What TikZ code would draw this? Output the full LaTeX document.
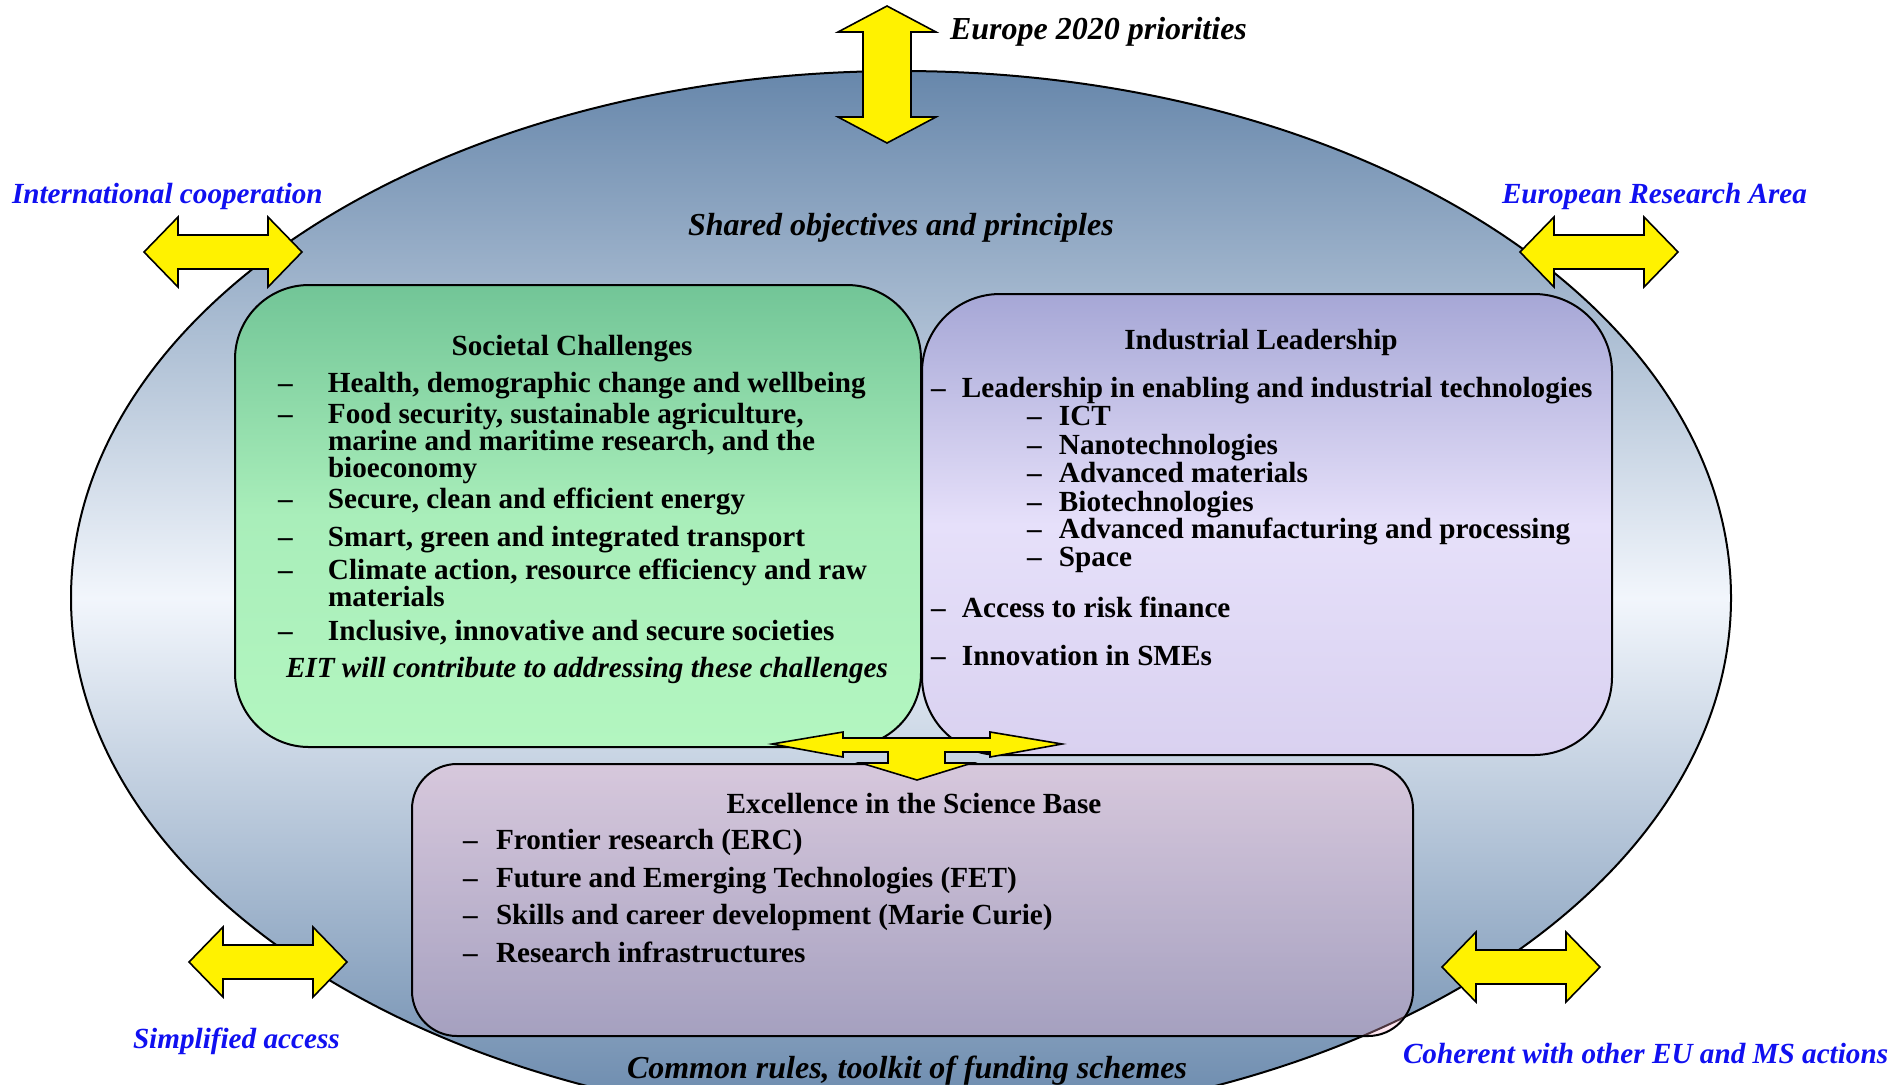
\documentclass[tikz,border=0pt]{standalone}
\usepackage{fontspec}
\setmainfont{Liberation Serif}
\definecolor{ellTop}{HTML}{6787AB}
\definecolor{ellMid}{HTML}{F2F6FC}
\definecolor{grTop}{HTML}{72C597}
\definecolor{grMid}{HTML}{A9EEBA}
\definecolor{grBot}{HTML}{B3F6C0}
\definecolor{puTop}{HTML}{A6A7D6}
\definecolor{puMid}{HTML}{E6E0FA}
\definecolor{puBot}{HTML}{D9D1F0}
\definecolor{pkBox}{HTML}{FFB0D0}
\definecolor{lblBlue}{HTML}{1010F0}
\newcommand{\bxfont}{\bfseries\fontsize{14.6}{17}\selectfont}
\newcommand{\bxitfont}{\bfseries\itshape\fontsize{14.6}{17}\selectfont}
\newcommand{\bigitfont}{\bfseries\itshape\fontsize{16}{19}\selectfont}
\newcommand{\dashitem}[2]{\makebox[#1][l]{–}#2}
\begin{document}
\begin{tikzpicture}[x=0.5pt,y=-0.5pt,
  every node/.style={inner sep=0pt,outer sep=0pt},
  frame/.style={draw=black,line width=1pt,top color=ellTop,bottom color=ellTop,middle color=ellMid},
  roundbox/.style={draw=black,line width=1pt,rectangle},
  blockarrow/.style={draw=black,line width=0.8pt,fill=yellow,line join=miter},
  item/.style={anchor=base west,font=\bxfont},
  boxhead/.style={anchor=base,font=\bxfont},
  note/.style={anchor=base west,font=\bxitfont},
  outerlbl/.style={anchor=base west,font=\bigitfont},
  sidelbl/.style={anchor=base west,font=\bxitfont,text=lblBlue}]
\useasboundingbox (0,0) rectangle (1895,1084);
\clip (0,0) rectangle (1895,1084);
% outer frame
\path[frame] (901,598) ellipse [x radius=830, y radius=527];
\node[outerlbl] (shared) at (688,235) {Shared objectives and principles};
\node[outerlbl] (common) at (627,1078) {Common rules, toolkit of funding schemes};
% boxes
\node[roundbox,minimum width=343pt,minimum height=231pt,rounded corners=37pt,
      top color=grTop,bottom color=grBot,middle color=grMid] (soc) at (578,516) {};
\node[roundbox,minimum width=345pt,minimum height=230.5pt,rounded corners=39pt,
      top color=puTop,bottom color=puBot,middle color=puMid] (ind) at (1267,524.5) {};
\node[roundbox,minimum width=500.5pt,minimum height=136pt,rounded corners=22.5pt,
      fill=pkBox,fill opacity=0.3] (exc) at (912.5,900) {};
% outer block arrows
\draw[blockarrow] (887,6) -- (936,32) -- (911,32) -- (911,117) -- (936,117) -- (887,143)
  -- (838,117) -- (863,117) -- (863,32) -- (838,32) -- cycle;
\draw[blockarrow] (144,252) -- ++(34,-35) -- ++(0,18) -- ++(90,0) -- ++(0,-18) -- ++(34,35)
  -- ++(-34,35) -- ++(0,-18) -- ++(-90,0) -- ++(0,18) -- cycle;
\draw[blockarrow] (1520,252) -- ++(34,-35) -- ++(0,18) -- ++(90,0) -- ++(0,-18) -- ++(34,35)
  -- ++(-34,35) -- ++(0,-18) -- ++(-90,0) -- ++(0,18) -- cycle;
\draw[blockarrow] (189,962) -- ++(34,-35) -- ++(0,18) -- ++(90,0) -- ++(0,-18) -- ++(34,35)
  -- ++(-34,35) -- ++(0,-18) -- ++(-90,0) -- ++(0,18) -- cycle;
\draw[blockarrow] (1442,967) -- ++(34,-35) -- ++(0,18) -- ++(90,0) -- ++(0,-18) -- ++(34,35)
  -- ++(-34,35) -- ++(0,-18) -- ++(-90,0) -- ++(0,18) -- cycle;
% central three-way arrow
\draw[blockarrow] (772,744) -- (843,732) -- (843,738) -- (990,738) -- (990,732) -- (1062,744)
  -- (990,757) -- (990,752) -- (945,752) -- (945,763) -- (972,763) -- (917,780)
  -- (861,763) -- (888,763) -- (888,752) -- (843,752) -- (843,757) -- cycle;
% outer labels
\node[outerlbl] (eu2020) at (950,39) {Europe 2020 priorities};
\node[sidelbl] (intl) at (12,203) {International cooperation};
\node[sidelbl] (era) at (1502,203) {European Research Area};
\node[sidelbl] (simpl) at (133,1048) {Simplified access};
\node[sidelbl] (coher) at (1403,1063) {Coherent with other EU and MS actions};
% Societal Challenges
\node[boxhead] (socT) at (572,355) {Societal Challenges};
\node[item] (soc1) at (278,392) {\dashitem{25pt}{Health, demographic change and wellbeing}};
\node[item] (soc2) at (278,423) {\dashitem{25pt}{Food security, sustainable agriculture,}};
\node[item] (soc2b) at (328,450) {marine and maritime research, and the};
\node[item] (soc2c) at (328,477) {bioeconomy};
\node[item] (soc3) at (278,508) {\dashitem{25pt}{Secure, clean and efficient energy}};
\node[item] (soc4) at (278,546) {\dashitem{25pt}{Smart, green and integrated transport}};
\node[item] (soc5) at (278,579) {\dashitem{25pt}{Climate action, resource efficiency and raw}};
\node[item] (soc5b) at (328,606) {materials};
\node[item] (soc6) at (278,640) {\dashitem{25pt}{Inclusive, innovative and secure societies}};
\node[note] (eit) at (286,677) {EIT will contribute to addressing these challenges};
% Industrial Leadership
\node[boxhead] (indT) at (1261,349) {Industrial Leadership};
\node[item] (ind1) at (931,397) {\dashitem{15.5pt}{Leadership in enabling and industrial technologies}};
\node[item] (ind1a) at (1027,425) {\dashitem{16pt}{ICT}};
\node[item] (ind1b) at (1027,454) {\dashitem{16pt}{Nanotechnologies}};
\node[item] (ind1c) at (1027,482) {\dashitem{16pt}{Advanced materials}};
\node[item] (ind1d) at (1027,511) {\dashitem{16pt}{Biotechnologies}};
\node[item] (ind1e) at (1027,538) {\dashitem{16pt}{Advanced manufacturing and processing}};
\node[item] (ind1f) at (1027,566) {\dashitem{16pt}{Space}};
\node[item] (ind2) at (931,617) {\dashitem{15.5pt}{Access to risk finance}};
\node[item] (ind3) at (931,665) {\dashitem{15.5pt}{Innovation in SMEs}};
% Excellence in the Science Base
\node[boxhead] (excT) at (914,813) {Excellence in the Science Base};
\node[item] (exc1) at (463,849) {\dashitem{16.5pt}{Frontier research (ERC)}};
\node[item] (exc2) at (463,887) {\dashitem{16.5pt}{Future and Emerging Technologies (FET)}};
\node[item] (exc3) at (463,924) {\dashitem{16.5pt}{Skills and career development (Marie Curie)}};
\node[item] (exc4) at (463,962) {\dashitem{16.5pt}{Research infrastructures}};
\end{tikzpicture}
\end{document}
